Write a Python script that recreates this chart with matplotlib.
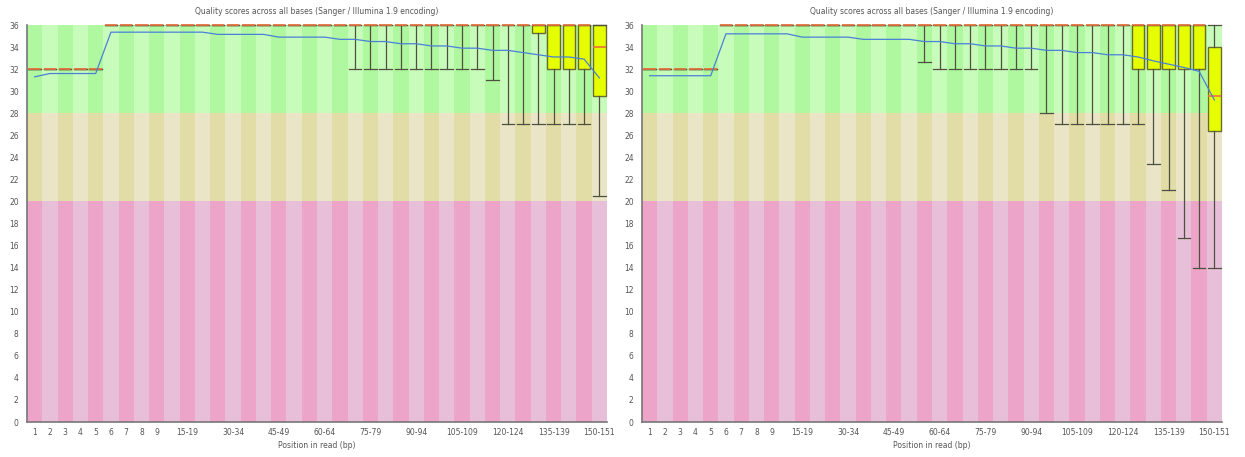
import matplotlib
matplotlib.use("Agg")
import matplotlib.pyplot as plt
import numpy as np

categories = ["1", "2", "3", "4", "5", "6", "7", "8", "9",
              "10-14", "15-19", "20-24", "25-29", "30-34", "35-39", "40-44",
              "45-49", "50-54", "55-59", "60-64", "65-69", "70-74", "75-79",
              "80-84", "85-89", "90-94", "95-99", "100-104", "105-109",
              "110-114", "115-119", "120-124", "125-129", "130-134",
              "135-139", "140-144", "145-149", "150-151"]
shown_labels = ["1", "2", "3", "4", "5", "6", "7", "8", "9", "15-19", "30-34",
                "45-49", "60-64", "75-79", "90-94", "105-109", "120-124",
                "135-139", "150-151"]

# ---- left sample ----
left_whislo = [32, 32, 32, 32, 32, 36, 36, 36, 36, 36, 36, 36, 36, 36, 36, 36,
               36, 36, 36, 36, 36, 32, 32, 32, 32, 32, 32, 32, 32, 32, 31, 27,
               27, 27, 27, 27, 27, 20.5]
left_q1 = [32, 32, 32, 32, 32, 36, 36, 36, 36, 36, 36, 36, 36, 36, 36, 36,
           36, 36, 36, 36, 36, 36, 36, 36, 36, 36, 36, 36, 36, 36, 36, 36,
           36, 35.3, 32, 32, 32, 29.6]
left_med = [32, 32, 32, 32, 32, 36, 36, 36, 36, 36, 36, 36, 36, 36, 36, 36,
            36, 36, 36, 36, 36, 36, 36, 36, 36, 36, 36, 36, 36, 36, 36, 36,
            36, 36, 36, 36, 36, 34]
left_q3 = [32, 32, 32, 32, 32, 36, 36, 36, 36, 36, 36, 36, 36, 36, 36, 36,
           36, 36, 36, 36, 36, 36, 36, 36, 36, 36, 36, 36, 36, 36, 36, 36,
           36, 36, 36, 36, 36, 36]
left_whishi = [32, 32, 32, 32, 32, 36, 36, 36, 36, 36, 36, 36, 36, 36, 36, 36,
               36, 36, 36, 36, 36, 36, 36, 36, 36, 36, 36, 36, 36, 36, 36, 36,
               36, 36, 36, 36, 36, 36]
left_mean = [31.3, 31.6, 31.6, 31.6, 31.6, 35.35, 35.35, 35.35, 35.35, 35.35,
             35.35, 35.35, 35.15, 35.15, 35.15, 35.15, 34.9, 34.9, 34.9, 34.9,
             34.7, 34.7, 34.5, 34.5, 34.3, 34.3, 34.1, 34.1, 33.9, 33.9, 33.7,
             33.7, 33.5, 33.3, 33.1, 33.1, 32.9, 31.2]

# ---- right sample ----
right_whislo = [32, 32, 32, 32, 32, 36, 36, 36, 36, 36, 36, 36, 36, 36, 36, 36,
                36, 36, 32.6, 32, 32, 32, 32, 32, 32, 32, 28, 27, 27, 27, 27,
                27, 27, 23.4, 21.0, 16.7, 14.0, 14.0]
right_q1 = [32, 32, 32, 32, 32, 36, 36, 36, 36, 36, 36, 36, 36, 36, 36, 36,
            36, 36, 36, 36, 36, 36, 36, 36, 36, 36, 36, 36, 36, 36, 36, 36,
            32, 32, 32, 32, 32, 26.4]
right_med = [32, 32, 32, 32, 32, 36, 36, 36, 36, 36, 36, 36, 36, 36, 36, 36,
             36, 36, 36, 36, 36, 36, 36, 36, 36, 36, 36, 36, 36, 36, 36, 36,
             36, 36, 36, 36, 36, 29.6]
right_q3 = [32, 32, 32, 32, 32, 36, 36, 36, 36, 36, 36, 36, 36, 36, 36, 36,
            36, 36, 36, 36, 36, 36, 36, 36, 36, 36, 36, 36, 36, 36, 36, 36,
            36, 36, 36, 36, 36, 34]
right_whishi = [32, 32, 32, 32, 32, 36, 36, 36, 36, 36, 36, 36, 36, 36, 36, 36,
                36, 36, 36, 36, 36, 36, 36, 36, 36, 36, 36, 36, 36, 36, 36, 36,
                36, 36, 36, 36, 36, 36]
right_mean = [31.4, 31.4, 31.4, 31.4, 31.4, 35.2, 35.2, 35.2, 35.2, 35.2,
              34.9, 34.9, 34.9, 34.9, 34.7, 34.7, 34.7, 34.7, 34.5, 34.5,
              34.3, 34.3, 34.1, 34.1, 33.9, 33.9, 33.7, 33.7, 33.5, 33.5, 33.3,
              33.3, 33.1, 32.75, 32.45, 32.15, 31.8, 29.2]

title = "Quality scores across all bases (Sanger / Illumina 1.9 encoding)"
xlabel = "Position in read (bp)"

zones = [(0, 20, "#eca4c8", "#e8bfd8"),
         (20, 28, "#e2dca6", "#e9e5c6"),
         (28, 36, "#b0f8a0", "#c8fcba")]

W, H = 1245, 457
fig = plt.figure(figsize=(W / 100, H / 100), dpi=100)
txt = "#555555"
fs = 5.5


def draw(ax, whislo, q1, med, q3, whishi, mean):
    n = len(categories)
    x = np.arange(n)
    for lo, hi, dark, light in zones:
        cols = [dark if i % 2 == 0 else light for i in range(n)]
        ax.bar(x, hi - lo, bottom=lo, width=1.0, color=cols, linewidth=0,
               zorder=0)
    stats = []
    for i in range(n):
        stats.append(dict(whislo=whislo[i], q1=q1[i], med=med[i], q3=q3[i],
                          whishi=whishi[i], fliers=[], label=categories[i]))
    ax.bxp(stats, positions=x, widths=0.82, capwidths=0.82, showfliers=False,
           patch_artist=True,
           boxprops=dict(facecolor="#e6ff00", edgecolor="#6b6b30", linewidth=1.0),
           whiskerprops=dict(color="#505040", linewidth=0.9),
           capprops=dict(color="#505040", linewidth=0.9),
           medianprops=dict(color="#e8703a", linewidth=1.2),
           manage_ticks=False, zorder=3)
    for a in ax.lines + ax.patches[-0:]:
        pass
    ax.plot(x, mean, color="#4a80d8", linewidth=0.9, zorder=4)
    for art in ax.get_children():
        try:
            art.set_clip_on(False)
        except Exception:
            pass
    ax.set_xlim(-0.5, n - 0.5)
    ax.set_ylim(0, 36)
    ax.set_yticks(np.arange(0, 37, 2))
    ax.set_yticklabels([str(v) for v in range(0, 37, 2)], fontsize=fs, color=txt)
    pos = [categories.index(lbl) for lbl in shown_labels]
    ax.set_xticks(pos)
    ax.set_xticklabels(shown_labels, fontsize=fs, color=txt)
    ax.tick_params(length=0, pad=4)
    ax.tick_params(axis="y", pad=6)
    for s in ("top", "right"):
        ax.spines[s].set_visible(False)
    for s in ("left", "bottom"):
        ax.spines[s].set_color("#777777")
        ax.spines[s].set_linewidth(1.2)
    ax.set_xlabel(xlabel, fontsize=fs, color=txt, labelpad=3)
    ax.set_title(title, fontsize=fs, color=txt, pad=8)


ax1 = fig.add_axes([27 / W, 1 - 422 / H, 580 / W, 397 / H])
draw(ax1, left_whislo, left_q1, left_med, left_q3, left_whishi, left_mean)
ax2 = fig.add_axes([642 / W, 1 - 422 / H, 580 / W, 397 / H])
draw(ax2, right_whislo, right_q1, right_med, right_q3, right_whishi, right_mean)

fig.savefig("out.png", dpi=100, facecolor="white")
